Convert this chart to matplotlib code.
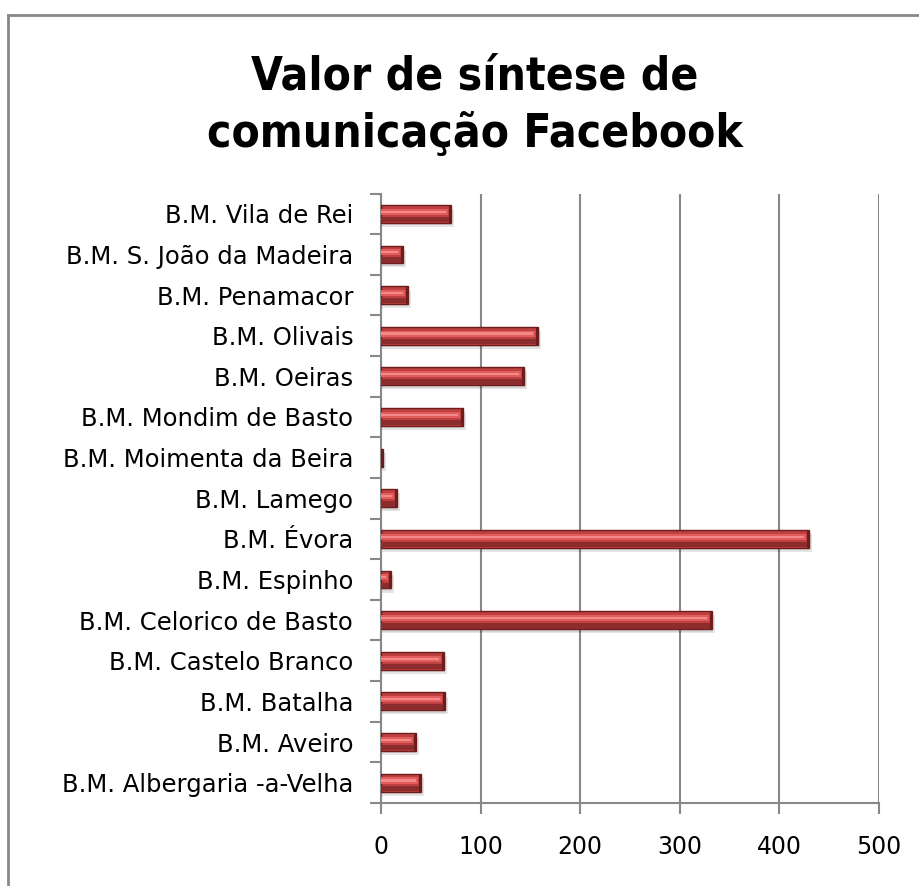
import matplotlib
matplotlib.use("Agg")
import matplotlib.pyplot as plt
import numpy as np
from matplotlib.lines import Line2D

categories = [
    "B.M. Albergaria -a-Velha", "B.M. Aveiro", "B.M. Batalha", "B.M. Castelo Branco",
    "B.M. Celorico de Basto", "B.M. Espinho", "B.M. Évora", "B.M. Lamego",
    "B.M. Moimenta da Beira", "B.M. Mondim de Basto", "B.M. Oeiras", "B.M. Olivais",
    "B.M. Penamacor", "B.M. S. João da Madeira", "B.M. Vila de Rei",
]
values = [40, 35, 64, 63, 332, 10, 430, 16, 2, 82, 144, 158, 27, 22, 70]
xticks = [0, 100, 200, 300, 400, 500]
title = "Valor de síntese de\ncomunicação Facebook"

fig = plt.figure(figsize=(9.2, 8.86), dpi=100)
ax = fig.add_axes([0.4141, 0.0937, 0.5413, 0.6879])

y = np.arange(len(categories))
v = np.array(values, dtype=float)
h = 0.44

# shadow
ax.barh(y - 0.1, v + 3, height=h, left=0, color="#000000", alpha=0.10, zorder=2, linewidth=0)
ax.barh(y - 0.06, v + 1.5, height=h, left=0, color="#000000", alpha=0.08, zorder=2, linewidth=0)
# base bar
ax.barh(y, v, height=h, color="#bf4040", edgecolor="#6e1c1c", linewidth=1.0, zorder=3)
# lower dark band
ax.barh(y - h * 0.32, np.maximum(v - 1.2, 0), height=h * 0.3, color="#8c2c2c", linewidth=0, zorder=4)
# upper highlight
ax.barh(y + h * 0.12, np.maximum(v - 3, 0), height=h * 0.34, color="#e25c5c", linewidth=0, zorder=4)
ax.barh(y + h * 0.12, np.maximum(v - 5, 0), height=h * 0.12, color="#f28a8a", linewidth=0, zorder=4)
# right end dark cap
ax.barh(y, np.minimum(v, 2.0), left=np.maximum(v - 2.0, 0), height=h, color="#6e1c1c", linewidth=0, zorder=5)

ax.set_xlim(0, 500)
ax.set_ylim(-0.5, len(categories) - 0.5)
ax.set_xticks(xticks)
ax.set_xticklabels([str(t) for t in xticks], fontsize=17, family="DejaVu Sans")
ax.set_yticks(y)
ax.set_yticklabels(categories, fontsize=17.5, family="DejaVu Sans")
ax.tick_params(axis="y", length=0, pad=20)
ax.tick_params(axis="x", length=8, width=1.5, color="#888888", pad=15)

# category separator ticks
ax.set_yticks(np.arange(-0.5, len(categories), 1.0), minor=True)
ax.tick_params(axis="y", which="minor", length=8, width=1.5, color="#888888")

ax.grid(axis="x", color="#888888", linewidth=1.5, zorder=1)
ax.set_axisbelow(True)
for s in ["top", "right"]:
    ax.spines[s].set_visible(False)
ax.spines["left"].set_color("#888888")
ax.spines["left"].set_linewidth(1.5)
ax.spines["bottom"].set_color("#888888")
ax.spines["bottom"].set_linewidth(1.5)

fig.text(0.516, 0.881, title, ha="center", va="center", fontsize=33, fontweight="bold",
         fontstretch="condensed", family=["DejaVu Sans"], linespacing=1.35)

# chart area border (top and left)
fig.add_artist(Line2D([0.009, 1.0], [0.983, 0.983], color="#888888", linewidth=2, transform=fig.transFigure))
fig.add_artist(Line2D([0.009, 0.009], [0.0, 0.983], color="#888888", linewidth=2, transform=fig.transFigure))

fig.savefig("out.png", dpi=100)
